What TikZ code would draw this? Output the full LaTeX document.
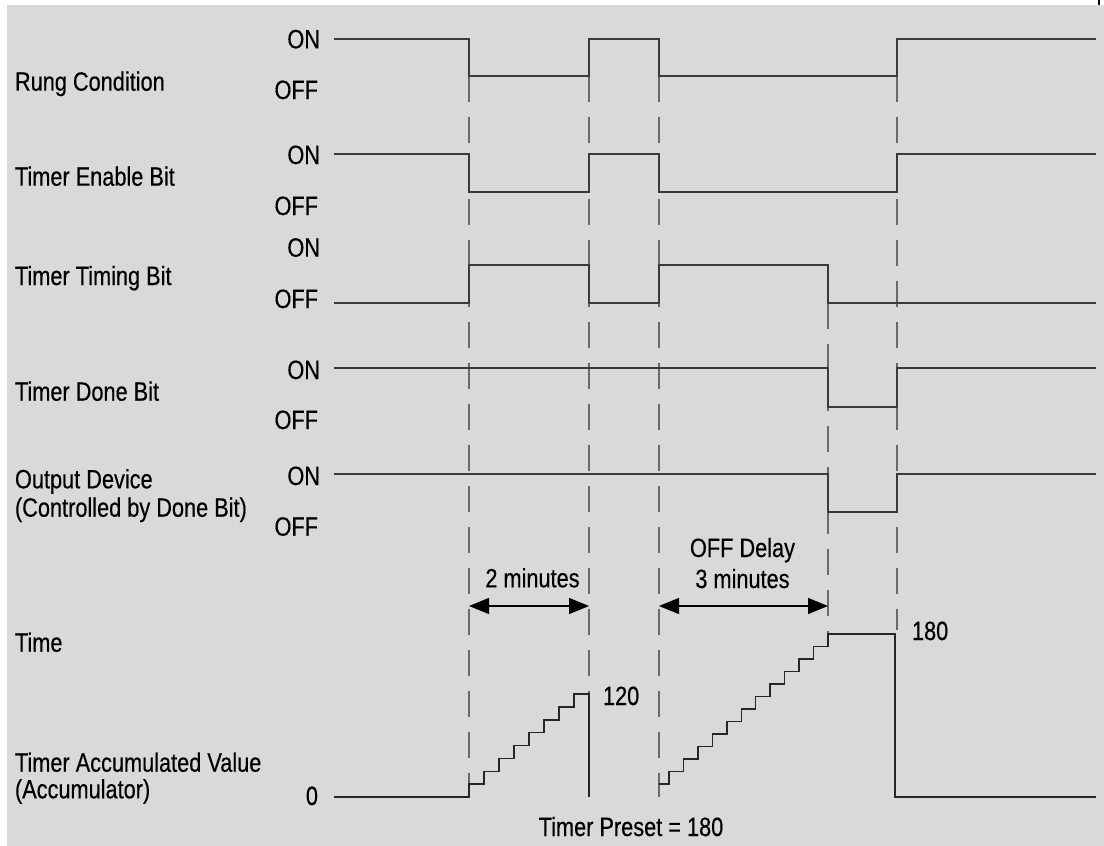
\documentclass[tikz,border=0pt]{standalone}
\usepackage{fontspec}
\setmainfont{Liberation Sans}[FakeStretch=0.82,FakeBold=0.35]
\usetikzlibrary{arrows.meta}
\definecolor{bgc}{RGB}{217,217,217}
\definecolor{wavec}{RGB}{58,58,58}
\definecolor{dashc}{RGB}{105,105,105}
\begin{document}
\begin{tikzpicture}[x=1pt,y=-1pt,
  lbl/.style={inner sep=0,outer sep=0,font=\fontsize{26.5}{31}\selectfont,text=black},
  wave/.style={draw=wavec,line width=1.6pt,line join=miter},
  stair/.style={draw=black!85,line width=1.5pt,line join=miter},
  guide/.style={draw=dashc,line width=1.5pt,dash pattern=on 26pt off 15pt},
  dimline/.style={draw=black,line width=1.3pt,{Triangle[length=20pt,width=16pt]}-{Triangle[length=20pt,width=16pt]}}
]
\useasboundingbox (0,0) rectangle (1104,846);
\fill[white] (0,0) rectangle (1104,846);
\fill[bgc] (7,5) rectangle (1104,846);
\fill[black] (1098,0) rectangle (1100,5);

% dashed guide lines at the transition instants
\draw[guide] (469,76) -- (469,797);
\draw[guide] (589,76) -- (589,695);
\draw[guide] (659,76) -- (659,797);
\draw[guide] (828,303) -- (828,634);
\draw[guide] (897,76) -- (897,630);

% row labels
\node[lbl,anchor=base west] (l1) at (15,90.7) {Rung Condition};
\node[lbl,anchor=base west] (l2) at (15,185.7) {Timer Enable Bit};
\node[lbl,anchor=base west] (l3) at (15,285) {Timer Timing Bit};
\node[lbl,anchor=base west] (l4) at (15,400.7) {Timer Done Bit};
\node[lbl,anchor=base west] (l5a) at (15,488.3) {Output Device};
\node[lbl,anchor=base west] (l5b) at (15,516.7) {(Controlled by Done Bit)};
\node[lbl,anchor=base west] (l6) at (15,651.7) {Time};
\node[lbl,anchor=base west] (l7a) at (15,771.7) {Timer Accumulated Value};
\node[lbl,anchor=base west] (l7b) at (15,798.3) {(Accumulator)};

% ON / OFF labels
\node[lbl,anchor=base east] (on1) at (320,48.3) {ON};
\node[lbl,anchor=base east] (off1) at (318,99) {OFF};
\node[lbl,anchor=base east] (on2) at (320,164) {ON};
\node[lbl,anchor=base east] (off2) at (318,215) {OFF};
\node[lbl,anchor=base east] (on3) at (320,256.7) {ON};
\node[lbl,anchor=base east] (off3) at (318,308) {OFF};
\node[lbl,anchor=base east] (on4) at (320,379) {ON};
\node[lbl,anchor=base east] (off4) at (318,429) {OFF};
\node[lbl,anchor=base east] (on5) at (320,485) {ON};
\node[lbl,anchor=base east] (off5) at (318,535.7) {OFF};
\node[lbl,anchor=base east] (zero) at (318,805) {0};

% waveforms
\draw[wave] (334,39) -- (469,39) -- (469,76) -- (589,76) -- (589,39) -- (659,39) -- (659,76) -- (897,76) -- (897,39) -- (1096,39);
\draw[wave] (334,154) -- (469,154) -- (469,192) -- (589,192) -- (589,154) -- (659,154) -- (659,192) -- (897,192) -- (897,154) -- (1096,154);
\draw[wave] (334,303) -- (469,303) -- (469,265) -- (589,265) -- (589,303) -- (659,303) -- (659,265) -- (828,265) -- (828,303) -- (1096,303);
\draw[wave] (334,368) -- (828,368) -- (828,407) -- (897,407) -- (897,368) -- (1096,368);
\draw[wave] (334,474) -- (828,474) -- (828,512) -- (897,512) -- (897,474) -- (1096,474);

% accumulator
\draw[stair] (334,797) -- (469,797)
  foreach \k in {0,...,7} { -- ({469+15*\k},{797-12.875*(\k+1)}) -- ({484+15*\k},{797-12.875*(\k+1)}) }
  -- (589,694) -- (589,797);
\draw[stair] (659,784) -- (669,784)
  foreach \k in {0,...,11} { -- ({669+14.4545*\k},{784-12.5*(\k+1)}) -- ({683.4545+14.4545*\k},{784-12.5*(\k+1)}) }
  -- (895,634) -- (895,797) -- (1096,797);

% interval arrows
\draw[dimline] (469,606) -- (589,606);
\draw[dimline] (659,606) -- (828,606);
\node[lbl,anchor=base] (m2) at (532.5,587.3) {2 minutes};
\node[lbl,anchor=base] (od) at (742.5,557) {OFF Delay};
\node[lbl,anchor=base] (m3) at (742.5,588) {3 minutes};

% values
\node[lbl,anchor=base west] (v120) at (603,705) {120};
\node[lbl,anchor=base west] (v180) at (912,640) {180};
\node[lbl,anchor=base] (preset) at (631,836) {Timer Preset = 180};
\end{tikzpicture}
\end{document}
